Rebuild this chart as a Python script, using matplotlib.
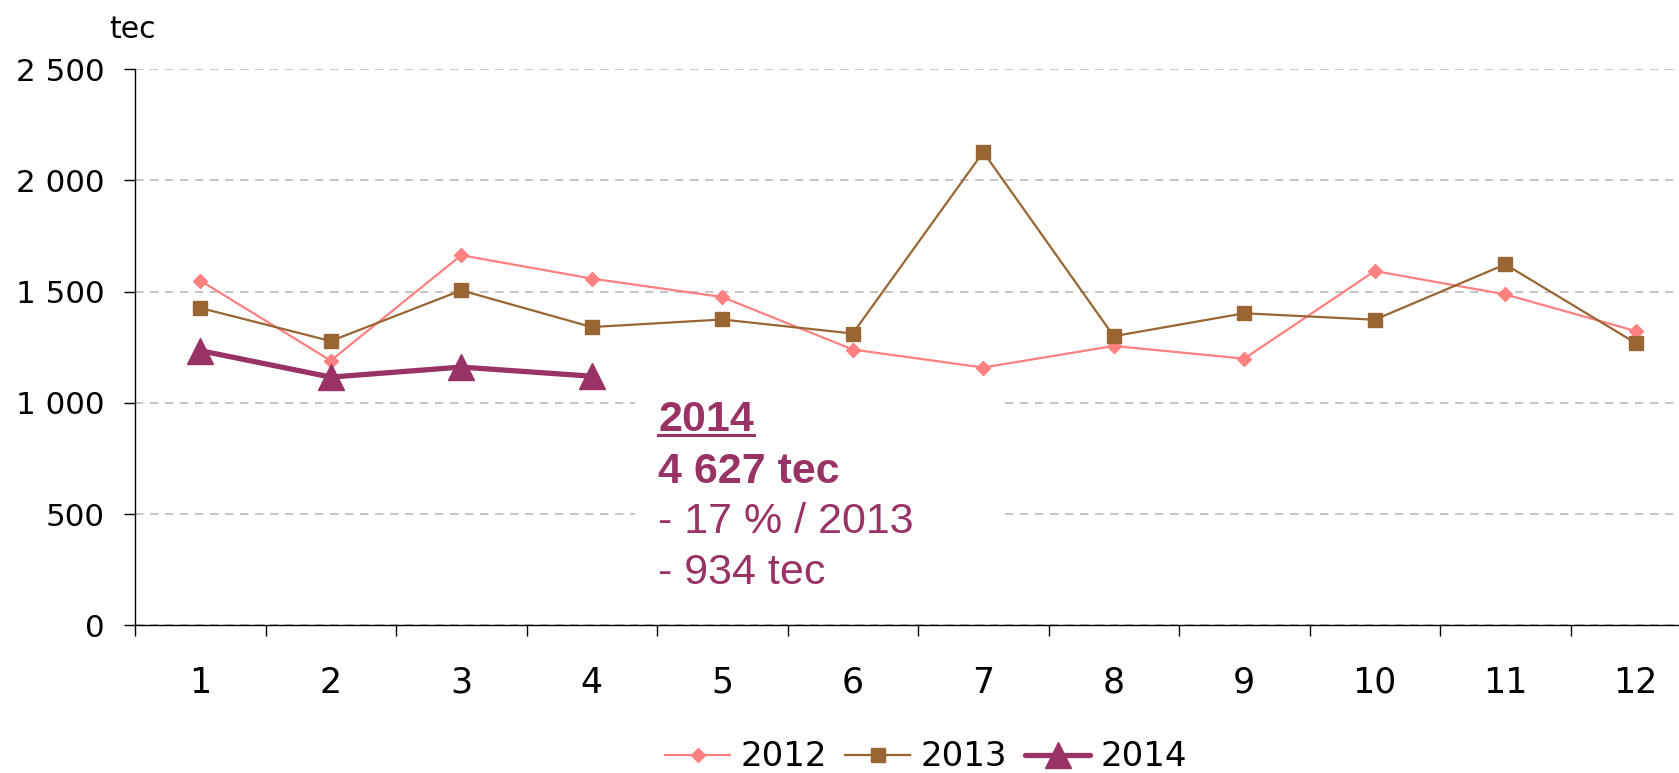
import numpy as np
import matplotlib
matplotlib.use("Agg")
import matplotlib.pyplot as plt
from matplotlib.patches import Rectangle
from matplotlib.lines import Line2D
from matplotlib.ticker import FuncFormatter, FixedLocator

###################################################
# Data
###################################################
months = [1, 2, 3, 4, 5, 6, 7, 8, 9, 10, 11, 12]
y2012 = [1550, 1190, 1664, 1559, 1476, 1240, 1159, 1256, 1199, 1593, 1488, 1323]
y2013 = [1427, 1278, 1506, 1341, 1375, 1312, 2128, 1300, 1403, 1374, 1623, 1269]
months_2014 = [1, 2, 3, 4]
y2014 = [1235, 1116, 1161, 1120]

note_lines = ["2014", "4 627 tec", "- 17 % / 2013", "- 934 tec"]

c2012 = "#FF8080"
c2013 = "#996633"
c2014 = "#993366"

# axis text in the reference is wide -> DejaVu Sans fits it better
plt.rcParams["font.family"] = ["DejaVu Sans"]
note_font = ["Liberation Sans", "DejaVu Sans"]

W, H = 1679, 773
fig = plt.figure(figsize=(W / 100, H / 100), dpi=100)

# axes extends past the right edge, as in the reference (cropped)
left, right = 135 / W, 1701 / W
bottom, top = 1 - 625.3 / H, 1 - 69.3 / H
ax = fig.add_axes([left, bottom, right - left, top - bottom])

ax.plot(months, y2012, color=c2012, lw=1.6, marker="D", ms=7.5,
        mec=c2012, mfc=c2012, label="2012", zorder=3)
ax.plot(months, y2013, color=c2013, lw=1.6, marker="s", ms=10.5,
        mec=c2013, mfc=c2013, label="2013", zorder=3)
ax.plot(months_2014, y2014, color=c2014, lw=3.8, marker="^", ms=19,
        mec=c2014, mfc=c2014, label="2014", zorder=4, solid_capstyle="round")

ax.set_xlim(0.5, 12.5)
ax.set_ylim(0, 2500)

ax.set_yticks(np.arange(0, 2501, 500))
ax.yaxis.set_major_formatter(FuncFormatter(lambda v, p: f"{int(v):,}".replace(",", " ")))
ax.set_xticks(months)
ax.xaxis.set_minor_locator(FixedLocator(np.arange(0.5, 12.6, 1)))

ax.tick_params(axis="y", which="major", length=8, width=1, direction="out",
               labelsize=22.3, pad=14, colors="black")
ax.tick_params(axis="x", which="major", length=0, labelsize=25, pad=29)
ax.tick_params(axis="x", which="minor", length=8, width=1, direction="out")

for s in ["top", "right"]:
    ax.spines[s].set_visible(False)
for s in ["left", "bottom"]:
    ax.spines[s].set_color("black")
    ax.spines[s].set_linewidth(1)

ax.yaxis.grid(True, color="#BBBBBB", linestyle=(0, (5, 4)), lw=1.2)
ax.set_axisbelow(True)

# unit label
fig.text(132 / W, 1 - 29 / H, "tec", fontsize=21.5, ha="center", va="center")

# white box behind annotation, hiding the gridlines
fig.patches.append(Rectangle((635 / W, 1 - 600 / H), (1002 - 635) / W, (600 - 393) / H,
                             transform=fig.transFigure, facecolor="white",
                             edgecolor="none", zorder=2))
ax.set_zorder(1)
ax.patch.set_alpha(0)

tx = 658 / W
baselines = [431, 483, 533, 584]
texts = []
for i, (line, yb) in enumerate(zip(note_lines, baselines)):
    t = fig.text(tx, 1 - yb / H, line, fontsize=31, color=c2014, va="baseline", ha="left",
                 family=note_font, fontweight="bold" if i < 2 else "normal", zorder=5)
    texts.append(t)

# underline first line
fig.canvas.draw()
bb = texts[0].get_window_extent()
fig.add_artist(Line2D([bb.x0 / W, bb.x1 / W], [1 - 435 / H, 1 - 435 / H],
                      transform=fig.transFigure, color=c2014, lw=2.2, zorder=5))

fig.legend(loc="center", bbox_to_anchor=(926 / W, 1 - 757 / H), ncol=3, frameon=False,
           fontsize=24.5, handlelength=1.9, handletextpad=0.3, columnspacing=0.55,
           borderaxespad=0, borderpad=0)

fig.savefig("out.png", dpi=100)
